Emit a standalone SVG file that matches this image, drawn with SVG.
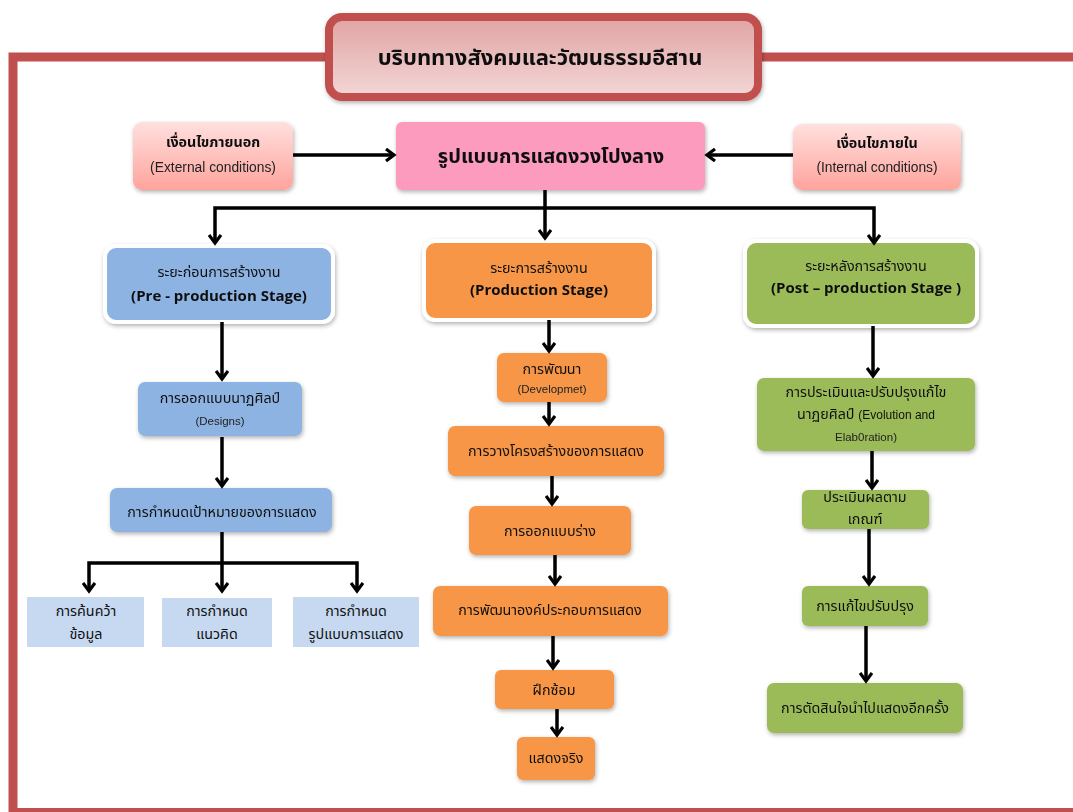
<svg xmlns="http://www.w3.org/2000/svg" width="1073" height="812" viewBox="0 0 1073 812">
<defs>
<style>
.t{font-family:"Noto Sans Thai","Noto Sans","DejaVu Sans",sans-serif;font-size:14.3px;fill:#111;text-anchor:middle}
.e{font-family:"Liberation Sans",Arial,sans-serif;font-size:13.8px;fill:#222;text-anchor:middle}
.s{font-family:"Liberation Sans",Arial,sans-serif;font-size:11.5px;fill:#222;text-anchor:middle}
.b{font-family:"Open Sans","Liberation Sans",sans-serif;font-size:15px;font-weight:bold;fill:#111;text-anchor:middle}
.c{fill:none;stroke:#000;stroke-width:3.5}
.blue{fill:#8DB3E2}
.lb{fill:#C6D9F1}
.or{fill:#F79646}
.gr{fill:#9BBB59}
</style>
<linearGradient id="tg" x1="0" y1="0" x2="0" y2="1"><stop offset="0" stop-color="#E0A4A3"/><stop offset="1" stop-color="#F3D6D6"/></linearGradient>
<linearGradient id="pg" x1="0" y1="0" x2="0" y2="1"><stop offset="0" stop-color="#FFE0DE"/><stop offset="1" stop-color="#FFA39C"/></linearGradient>
<filter id="sh" x="-10%" y="-10%" width="120%" height="130%"><feDropShadow dx="1" dy="2" stdDeviation="2" flood-color="#000" flood-opacity="0.3"/></filter>
<marker id="ah" markerUnits="userSpaceOnUse" viewBox="0 0 14 14" markerWidth="14" markerHeight="14" refX="11" refY="7" orient="auto"><path d="M3,1 L11,7 L3,13" fill="none" stroke="#000" stroke-width="3.2"/></marker>
<marker id="as" markerUnits="userSpaceOnUse" viewBox="0 0 14 14" markerWidth="14" markerHeight="14" refX="11" refY="7" orient="auto-start-reverse"><path d="M3,1 L11,7 L3,13" fill="none" stroke="#000" stroke-width="3.2"/></marker>
</defs>
<rect width="1073" height="812" fill="#fff"/>
<g id="frame">
<path d="M1073,57 L13,57 L13,812" fill="none" stroke="#C0504D" stroke-width="9"/>
<line x1="13" y1="810" x2="1073" y2="810" stroke="#C0504D" stroke-width="4"/>
</g>
<g id="title" filter="url(#sh)">
<rect x="329" y="17" width="429" height="80" rx="13" fill="url(#tg)" stroke="#C0504D" stroke-width="8"/>
<text x="540" y="65" font-family="'Noto Sans Thai','Noto Sans',sans-serif" font-size="22" font-weight="bold" fill="#111" text-anchor="middle">บริบททางสังคมและวัฒนธรรมอีสาน</text>
</g>
<g id="external" filter="url(#sh)">
<rect x="133" y="122" width="160" height="68" rx="9" fill="url(#pg)"/>
<text class="t" x="213" y="147" font-weight="bold">เงื่อนไขภายนอก</text>
<text class="e" x="213" y="172">(External conditions)</text>
</g>
<g id="center" filter="url(#sh)">
<rect x="396" y="122" width="309" height="68" rx="6" fill="#FD9BBE"/>
<text x="551" y="163" font-family="'Noto Sans Thai','Noto Sans',sans-serif" font-size="20" font-weight="bold" fill="#111" text-anchor="middle">รูปแบบการแสดงวงโปงลาง</text>
</g>
<g id="internal" filter="url(#sh)">
<rect x="793" y="124" width="168" height="66" rx="9" fill="url(#pg)"/>
<text class="t" x="877" y="148" font-weight="bold">เงื่อนไขภายใน</text>
<text class="e" x="877" y="172">(Internal conditions)</text>
</g>
<g id="pre" filter="url(#sh)">
<rect x="105" y="246" width="228" height="76" rx="11" class="blue" stroke="#fff" stroke-width="4"/>
<text class="t" x="219" y="277">ระยะก่อนการสร้างงาน</text>
<text class="b" x="219" y="301">(Pre - production Stage)</text>
</g>
<g id="prod" filter="url(#sh)">
<rect x="424" y="241" width="230" height="79" rx="11" class="or" stroke="#fff" stroke-width="4"/>
<text class="t" x="539" y="273">ระยะการสร้างงาน</text>
<text class="b" x="539" y="295">(Production Stage)</text>
</g>
<g id="post" filter="url(#sh)">
<rect x="745" y="241" width="232" height="85" rx="11" class="gr" stroke="#fff" stroke-width="4"/>
<text class="t" x="866" y="271">ระยะหลังการสร้างงาน</text>
<text class="b" x="866" y="293">(Post – production Stage )</text>
</g>
<g id="designs" filter="url(#sh)">
<rect x="138" y="382" width="164" height="54" rx="7" class="blue"/>
<text class="t" x="220" y="403">การออกแบบนาฏศิลป์</text>
<text class="s" x="220" y="425">(Designs)</text>
</g>
<g id="goal" filter="url(#sh)">
<rect x="110" y="488" width="222" height="44" rx="7" class="blue"/>
<text class="t" x="222" y="517">การกำหนดเป้าหมายของการแสดง</text>
</g>
<g id="research">
<rect x="27" y="597" width="117" height="50" class="lb"/>
<text class="t" x="86" y="616">การค้นคว้า</text>
<text class="t" x="86" y="639">ข้อมูล</text>
</g>
<g id="concept">
<rect x="162" y="598" width="110" height="49" class="lb"/>
<text class="t" x="217" y="616">การกำหนด</text>
<text class="t" x="217" y="639">แนวคิด</text>
</g>
<g id="form">
<rect x="293" y="597" width="126" height="50" class="lb"/>
<text class="t" x="356" y="616">การกำหนด</text>
<text class="t" x="356" y="639">รูปแบบการแสดง</text>
</g>
<g id="develop" filter="url(#sh)">
<rect x="497" y="353" width="110" height="49" rx="7" class="or"/>
<text class="t" x="552" y="374">การพัฒนา</text>
<text class="s" x="552" y="393">(Developmet)</text>
</g>
<g id="structure" filter="url(#sh)">
<rect x="448" y="426" width="216" height="50" rx="7" class="or"/>
<text class="t" x="556" y="456">การวางโครงสร้างของการแสดง</text>
</g>
<g id="draft" filter="url(#sh)">
<rect x="469" y="506" width="162" height="49" rx="7" class="or"/>
<text class="t" x="550" y="536">การออกแบบร่าง</text>
</g>
<g id="elements" filter="url(#sh)">
<rect x="433" y="586" width="235" height="50" rx="7" class="or"/>
<text class="t" x="550" y="615">การพัฒนาองค์ประกอบการแสดง</text>
</g>
<g id="rehearse" filter="url(#sh)">
<rect x="495" y="670" width="119" height="39" rx="6" class="or"/>
<text class="t" x="554" y="695">ฝึกซ้อม</text>
</g>
<g id="perform" filter="url(#sh)">
<rect x="517" y="737" width="78" height="43" rx="6" class="or"/>
<text class="t" x="556" y="763">แสดงจริง</text>
</g>
<g id="evaluate" filter="url(#sh)">
<rect x="757" y="378" width="218" height="73" rx="7" class="gr"/>
<text class="t" x="866" y="397">การประเมินและปรับปรุงแก้ไข</text>
<text class="t" x="866" y="419">นาฏยศิลป์ <tspan font-family="Liberation Sans,sans-serif" font-size="12">(Evolution  and</tspan></text>
<text class="s" x="866" y="441">Elab0ration)</text>
</g>
<g id="criteria" filter="url(#sh)">
<rect x="802" y="490" width="127" height="39" rx="6" class="gr"/>
<text class="t" x="865" y="502">ประเมินผลตาม</text>
<text class="t" x="865" y="524">เกณฑ์</text>
</g>
<g id="revise" filter="url(#sh)">
<rect x="802" y="586" width="126" height="40" rx="6" class="gr"/>
<text class="t" x="865" y="611">การแก้ไขปรับปรุง</text>
</g>
<g id="decide" filter="url(#sh)">
<rect x="767" y="683" width="196" height="50" rx="7" class="gr"/>
<text class="t" x="865" y="713">การตัดสินใจนำไปแสดงอีกครั้ง</text>
</g>
<g id="connectors" class="c">
<path class="c" d="M293,155 L394,155" marker-end="url(#ah)"/>
<path class="c" d="M793,155 L707,155" marker-end="url(#ah)"/>
<path class="c" d="M545,190 L545,238" marker-end="url(#ah)"/>
<path class="c" d="M215,243 L215,208 L874,208 L874,243" marker-start="url(#as)" marker-end="url(#ah)"/>
<path class="c" d="M222,322 L222,379" marker-end="url(#ah)"/>
<path class="c" d="M222,437 L222,486" marker-end="url(#ah)"/>
<path class="c" d="M222,532 L222,591" marker-end="url(#ah)"/>
<path class="c" d="M89,591 L89,563 L357,563 L357,591" marker-start="url(#as)" marker-end="url(#ah)"/>
<path class="c" d="M549,320 L549,351" marker-end="url(#ah)"/>
<path class="c" d="M549,402 L549,424" marker-end="url(#ah)"/>
<path class="c" d="M552,476 L552,504" marker-end="url(#ah)"/>
<path class="c" d="M555,555 L555,584" marker-end="url(#ah)"/>
<path class="c" d="M553,636 L553,668" marker-end="url(#ah)"/>
<path class="c" d="M557,709 L557,735" marker-end="url(#ah)"/>
<path class="c" d="M873,326 L873,376" marker-end="url(#ah)"/>
<path class="c" d="M872,451 L872,488" marker-end="url(#ah)"/>
<path class="c" d="M869,529 L869,584" marker-end="url(#ah)"/>
<path class="c" d="M866,626 L866,681" marker-end="url(#ah)"/>
</g>
</svg>
